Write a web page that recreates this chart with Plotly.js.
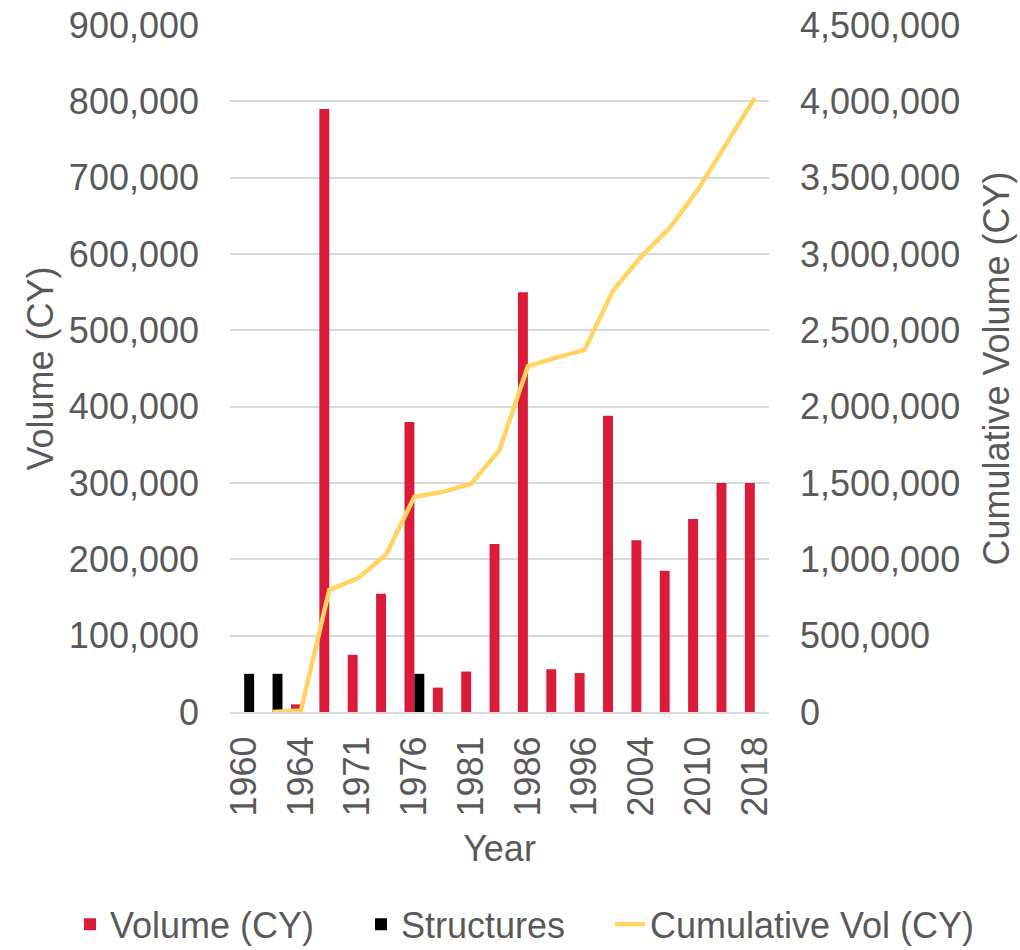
<!DOCTYPE html>
<html>
<head>
<meta charset="utf-8">
<script src="https://cdn.plot.ly/plotly-3.0.1.min.js"></script>
<style>html,body{margin:0;padding:0;background:#fff}#chart{width:1020px;height:950px}</style>
</head>
<body>
<div id="chart"></div>
<script>
var years = ["1960","1962","1964","1968","1971","1974","1976","1978","1981","1983","1986","1991","1996","2000","2004","2007","2010","2014","2018"];
var tickYears = ["1960","1964","1971","1976","1981","1986","1996","2004","2010","2018"];
var volume = [null,null,10000,790000,75000,155000,380000,32000,53000,220000,550000,56000,51000,388000,225000,185000,253000,300000,300000];
var structures = [50000,50000,null,null,null,null,50000,null,null,null,null,null,null,null,null,null,null,null,null];
var cumYears = ["1962","1964","1968","1971","1974","1976","1978","1981","1983","1986","1991","1996","2000","2004","2007","2010","2014","2018"];
var cumulative = [0,10000,800000,875000,1030000,1410000,1442000,1495000,1715000,2265000,2321000,2372000,2760000,2985000,3170000,3423000,3723000,4023000];

var txt = '#595959';
var fam = 'Liberation Sans, Arial, sans-serif';

var traces = [
  {type:'bar', name:'Volume (CY)', x:years, y:volume, marker:{color:'#DA1C3A'}, legend:'legend'},
  {type:'bar', name:'Structures', x:years, y:structures, marker:{color:'#000000'}, legend:'legend2'},
  {type:'scatter', mode:'lines', name:'Cumulative Vol (CY)', x:cumYears, y:cumulative, yaxis:'y2',
   line:{color:'#FFD462', width:4.5}, legend:'legend3'}
];

function leg(x){
  return {orientation:'h', xref:'container', yref:'container', x:x, xanchor:'left', y:0.027, yanchor:'middle',
          font:{size:36, color:txt}, bgcolor:'rgba(0,0,0,0)'};
}

var layout = {
  width:1020, height:950,
  margin:{l:230, r:251, t:25, b:238},
  paper_bgcolor:'#fff', plot_bgcolor:'#fff',
  font:{family:fam, size:36, color:txt},
  barmode:'group', bargap:0.3, bargroupgap:0,
  showlegend:true,
  legend:leg(70/1020),
  legend2:leg(361/1020),
  legend3:leg(610/1020),
  xaxis:{type:'category', categoryorder:'array', categoryarray:years,
         tickmode:'array', tickvals:tickYears, ticktext:tickYears,
         tickangle:-90, ticks:'', showgrid:false, showline:true, linecolor:'#D9D9D9', linewidth:2,
         ticklabelstandoff:8, automargin:false,
         title:{text:'Year', standoff:20, font:{size:36, color:txt}}},
  yaxis:{range:[0,900000], dtick:100000, tick0:0, tickformat:',d', showgrid:true, gridcolor:'#D9D9D9', gridwidth:2,
         zeroline:false, showline:false, ticks:'', ticklabelstandoff:30, automargin:false,
         title:{text:'Volume (CY)', standoff:4, font:{size:36, color:txt}}},
  yaxis2:{range:[0,4500000], dtick:500000, tick0:0, tickformat:',d', overlaying:'y', side:'right', showgrid:false,
          zeroline:false, showline:false, ticks:'', ticklabelstandoff:30, automargin:false,
          title:{text:'Cumulative Volume (CY)', standoff:24, font:{size:36, color:txt}}}
};

Plotly.newPlot('chart', traces, layout, {displayModeBar:false, staticPlot:true});
</script>
</body>
</html>
